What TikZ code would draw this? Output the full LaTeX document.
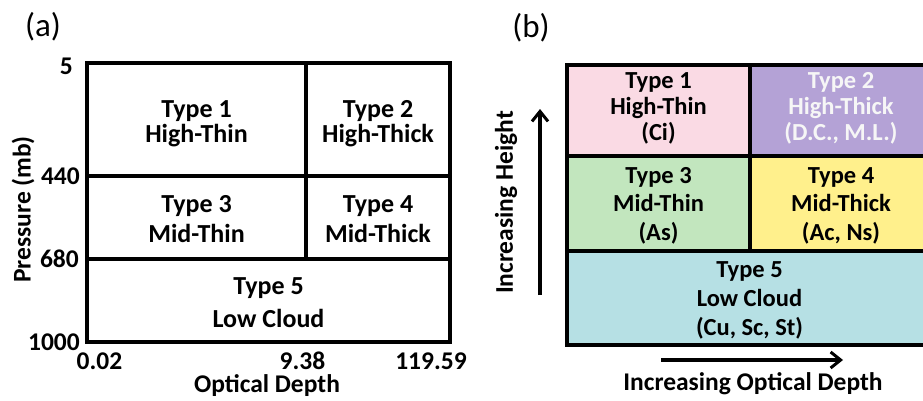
\documentclass[tikz,border=0pt]{standalone}
\usepackage{fontspec}
\setmainfont{Carlito}
\usetikzlibrary{arrows.meta}
\definecolor{cpink}{RGB}{250,218,228}
\definecolor{cpurple}{RGB}{180,162,214}
\definecolor{cgreen}{RGB}{194,230,190}
\definecolor{cyellow}{RGB}{255,240,140}
\definecolor{ccyan}{RGB}{182,224,228}
\definecolor{ctxtlight}{RGB}{246,246,246}
\tikzset{
  cell/.style={draw=black, line width=3.4pt, rectangle, inner sep=0pt},
  ln/.style={anchor=base, inner sep=0pt, font=\bfseries\fontsize{26}{28}\selectfont},
  rln/.style={anchor=base, inner sep=0pt, font=\bfseries\fontsize{24.5}{28}\selectfont},
  lbl/.style={inner sep=0pt, font=\bfseries\fontsize{25.5}{28}\selectfont},
  panel/.style={inner sep=0pt, font=\fontsize{33}{36}\selectfont},
  trend/.style={line width=3.2pt, -{Straight Barb[length=10pt,width=16pt,line width=3pt]}}
}
\begin{document}
\begin{tikzpicture}[x=1pt,y=-1pt]
\useasboundingbox (0,0) rectangle (923,400);

% ---- panel (a): pressure / optical depth grid ----
\node[panel] (pa) at (43,27) {(a)};
\node[cell, minimum width=219pt, minimum height=113pt] (a1) at (196.5,119.5) {};
\node[cell, minimum width=144pt, minimum height=113pt] (a2) at (378,119.5) {};
\node[cell, minimum width=219pt, minimum height=83pt] (a3) at (196.5,217.5) {};
\node[cell, minimum width=144pt, minimum height=83pt] (a4) at (378,217.5) {};
\node[cell, minimum width=363pt, minimum height=83pt] (a5) at (268.5,300.5) {};

\node[ln] (a1t) at (196.5,117) {Type 1};
\node[ln] (a1n) at (196.5,142) {High-Thin};
\node[ln] (a2t) at (378,117) {Type 2};
\node[ln] (a2n) at (378,142) {High-Thick};
\node[ln] (a3t) at (196.5,212) {Type 3};
\node[ln] (a3n) at (196.5,242) {Mid-Thin};
\node[ln] (a4t) at (378,212) {Type 4};
\node[ln] (a4n) at (378,242) {Mid-Thick};
\node[ln] (a5t) at (268.5,294) {Type 5};
\node[ln] (a5n) at (268.5,327) {Low Cloud};

\node[lbl, anchor=east] (p5) at (73,66) {5};
\node[lbl, anchor=east] (p440) at (80,176) {440};
\node[lbl, anchor=east] (p680) at (79,259) {680};
\node[lbl, anchor=east] (p1000) at (80,342) {1000};
\node[lbl] (t1) at (99.5,361) {0.02};
\node[lbl] (t2) at (302.5,361) {9.38};
\node[lbl] (t3) at (431,361) {119.59};
\node[lbl] (xa) at (267,386) {Optical Depth};
\node[lbl, rotate=90] (ya) at (23,209.5) {Pressure (mb)};

% ---- panel (b): coloured cloud classes ----
\node[panel] (pb) at (531,28) {(b)};
\node[cell, fill=cpink, minimum width=183pt, minimum height=91pt] (b1) at (658.5,110.5) {};
\node[cell, fill=cpurple, minimum width=182pt, minimum height=91pt] (b2) at (841,110.5) {};
\node[cell, fill=cgreen, minimum width=183pt, minimum height=95pt] (b3) at (658.5,203.5) {};
\node[cell, fill=cyellow, minimum width=182pt, minimum height=95pt] (b4) at (841,203.5) {};
\node[cell, fill=ccyan, minimum width=365pt, minimum height=94pt] (b5) at (749.5,298) {};

\node[rln] (b1t) at (658.5,88) {Type 1};
\node[rln] (b1n) at (658.5,114) {High-Thin};
\node[rln] (b1c) at (658.5,140) {(Ci)};
\begin{scope}[text=ctxtlight]
\node[rln] (b2t) at (841,88) {Type 2};
\node[rln] (b2n) at (841,114) {High-Thick};
\node[rln] (b2c) at (841,140) {(D.C., M.L.)};
\end{scope}
\node[rln] (b3t) at (658.5,183) {Type 3};
\node[rln] (b3n) at (658.5,211.5) {Mid-Thin};
\node[rln] (b3c) at (658.5,240) {(As)};
\node[rln] (b4t) at (841,183) {Type 4};
\node[rln] (b4n) at (841,211.5) {Mid-Thick};
\node[rln] (b4c) at (841,240) {(Ac, Ns)};
\node[rln] (b5t) at (749.5,277) {Type 5};
\node[rln] (b5n) at (749.5,306) {Low Cloud};
\node[rln] (b5c) at (749.5,335) {(Cu, Sc, St)};

\coordinate (h0) at (540,295);
\coordinate (h1) at (540,109);
\draw[trend] (h0) -- (h1);
\node[lbl, rotate=90] (yb) at (506,202.5) {Increasing Height};

\coordinate (d0) at (661,360);
\coordinate (d1) at (843,360);
\draw[trend] (d0) -- (d1);
\node[lbl] (xb) at (753,384) {Increasing Optical Depth};
\end{tikzpicture}
\end{document}
